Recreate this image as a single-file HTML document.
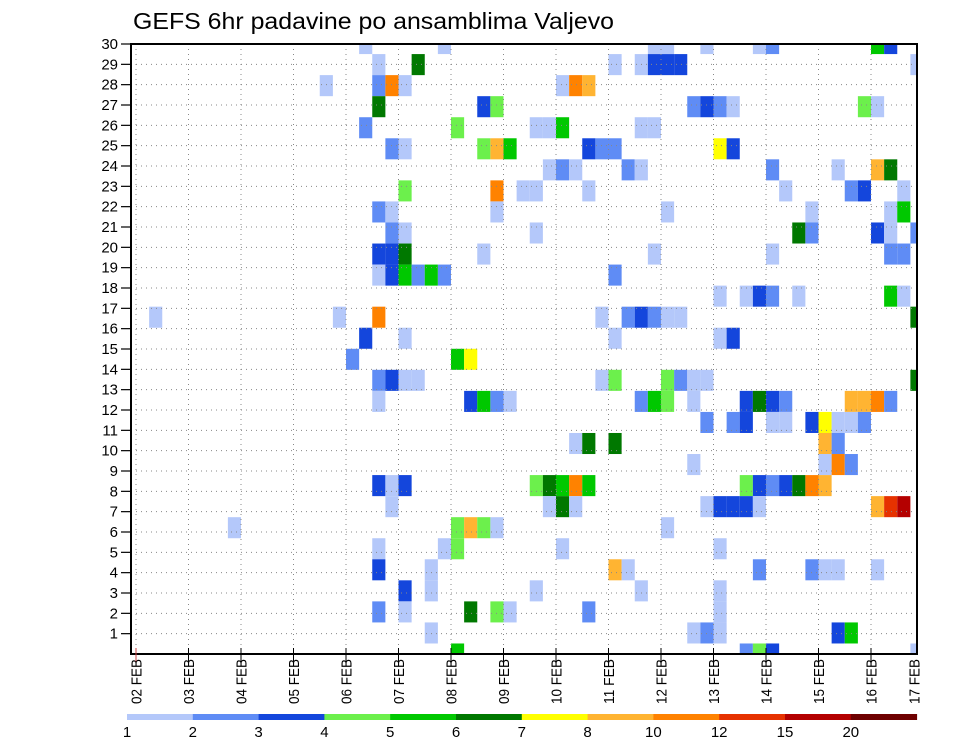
<!DOCTYPE html>
<html><head><meta charset="utf-8">
<style>
html,body{margin:0;padding:0;background:#fff;}
svg{display:block;font-family:"Liberation Sans",sans-serif;}
</style></head>
<body>
<svg id="chart" width="960" height="742" viewBox="0 0 960 742" xmlns="http://www.w3.org/2000/svg">
<text x="133" y="29" font-size="23" textLength="481" lengthAdjust="spacingAndGlyphs" fill="#000">GEFS 6hr padavine po ansamblima Valjevo</text>
<g id="cells" clip-path="url(#plotclip)"></g>
<g id="grid"></g>
<g id="axes"></g>
<g id="cbar"></g>
<defs><clipPath id="plotclip"><rect x="131" y="44" width="786" height="610"/></clipPath></defs>
</svg>
<script>
// ---- data ----
const dayLabels = ["02 FEB","03 FEB","04 FEB","05 FEB","06 FEB","07 FEB","08 FEB","09 FEB","10 FEB","11 FEB","12 FEB","13 FEB","14 FEB","15 FEB","16 FEB","17 FEB"];
const yTickLabels = [1,2,3,4,5,6,7,8,9,10,11,12,13,14,15,16,17,18,19,20,21,22,23,24,25,26,27,28,29,30];
const levels = [1,2,3,4,5,6,7,8,10,12,15,20];
const levelColors = ["#b4c8fa","#5f8cf5","#1446dc","#6cf04c","#00c800","#007800","#ffff00","#ffb432","#ff8200","#e63200","#b40000","#6e0000"];
// member rows (cell index), 6-hour step index, precipitation value
const cellMember = [
29,29,29,29,29,29,29,29,29,
28,28,28,28,28,28,28,28,
27,27,27,27,27,27,27,
26,26,26,26,26,26,26,26,26,
25,25,25,25,25,25,25,
24,24,24,24,24,24,24,24,24,24,
23,23,23,23,23,23,23,23,23,
22,22,22,22,22,22,22,22,22,
21,21,21,21,21,21,21,
20,20,20,20,20,20,20,20,
19,19,19,19,19,19,19,19,
18,18,18,18,18,18,18,
17,17,17,17,17,17,17,
16,16,16,16,16,16,16,16,16,16,
15,15,15,15,15,
14,14,14,
13,13,13,13,13,13,13,13,13,13,13,
12,12,12,12,12,12,12,12,12,12,12,12,12,12,12,12,12,
11,11,11,11,11,11,11,11,11,11,
10,10,10,10,10,
9,9,9,9,
8,8,8,8,8,8,8,8,8,8,8,8,8,8,8,
7,7,7,7,7,7,7,7,7,7,7,7,
6,6,6,6,6,6,
5,5,5,5,5,
4,4,4,4,4,4,4,4,4,
3,3,3,3,3,
2,2,2,2,2,2,2,
1,1,1,1,1,1,
0,0,0,0,0];
const cellStep = [
17,23,39,40,43,47,48,56,57,
18,21,36,38,39,40,41,59,
14,18,19,20,32,33,34,
18,26,27,42,43,44,45,55,56,
17,24,30,31,32,38,39,
19,20,26,27,28,34,35,36,44,45,
31,32,33,37,38,48,53,56,57,
20,27,29,30,34,49,54,55,58,
18,19,27,40,51,57,58,
19,20,30,50,51,56,57,59,
18,19,20,26,39,48,57,58,
18,19,20,21,22,23,36,
44,46,47,48,50,57,58,
1,15,18,35,37,38,39,40,41,59,
17,20,36,44,45,
16,24,25,
18,19,20,21,35,36,40,41,42,43,59,
18,25,26,27,28,38,39,40,42,46,47,48,49,54,55,56,57,
43,45,46,48,49,51,52,53,54,55,
33,34,36,52,53,
42,52,53,54,
18,19,20,30,31,32,33,34,46,47,48,49,50,51,52,
19,31,32,33,43,44,45,46,47,56,57,58,
7,24,25,26,27,40,
18,23,24,32,44,
18,22,36,37,47,51,52,53,56,
20,22,30,38,44,
18,20,25,27,28,34,44,
22,42,43,44,53,54,
24,46,47,48,59];
const cellValue = [
1.5,1.5,1.5,1.5,1.5,1.5,2.5,5.5,3.5,
1.5,6.5,1.5,1.5,3.5,3.5,3.5,1.5,
1.5,2.5,11,1.5,1.5,11,9,
6.5,3.5,4.5,2.5,3.5,2.5,1.5,4.5,1.5,
2.5,4.5,1.5,1.5,5.5,1.5,1.5,
2.5,1.5,4.5,9,5.5,3.5,2.5,2.5,7.5,3.5,
1.5,2.5,1.5,2.5,1.5,2.5,1.5,9,6.5,
4.5,11,1.5,1.5,1.5,1.5,2.5,3.5,1.5,
2.5,1.5,1.5,1.5,1.5,1.5,5.5,
2.5,1.5,1.5,6.5,2.5,3.5,1.5,2.5,
3.5,3.5,6.5,1.5,1.5,1.5,2.5,2.5,
1.5,3.5,5.5,2.5,5.5,2.5,2.5,
1.5,1.5,3.5,2.5,1.5,5.5,1.5,
1.5,1.5,11,1.5,2.5,3.5,2.5,1.5,1.5,6.5,
3.5,1.5,1.5,1.5,3.5,
2.5,5.5,7.5,
2.5,3.5,1.5,1.5,1.5,4.5,4.5,2.5,1.5,1.5,6.5,
1.5,3.5,5.5,2.5,1.5,2.5,5.5,4.5,1.5,3.5,6.5,3.5,2.5,9,9,11,2.5,
2.5,2.5,3.5,1.5,1.5,3.5,7.5,1.5,1.5,2.5,
1.5,6.5,6.5,9,2.5,
1.5,1.5,11,2.5,
3.5,1.5,3.5,4.5,6.5,5.5,11,5.5,4.5,3.5,2.5,3.5,6.5,11,9,
1.5,1.5,6.5,1.5,1.5,3.5,3.5,3.5,1.5,9,13.5,17,
1.5,4.5,9,4.5,1.5,1.5,
1.5,1.5,4.5,1.5,1.5,
3.5,1.5,9,1.5,2.5,2.5,1.5,1.5,1.5,
3.5,1.5,1.5,1.5,1.5,
2.5,1.5,6.5,4.5,1.5,2.5,1.5,
1.5,1.5,2.5,1.5,3.5,5.5,
5.5,2.5,4.5,3.5,1.5];

// ---- geometry ----
const NS="http://www.w3.org/2000/svg";
const X0=136, DAYW=52.5, STEPW=DAYW/4, LEFT=131, RIGHT=917, TOP=44, BOTTOM=654;
const ROWH=(BOTTOM-TOP)/30, CELLH=21.05;
function xStep(k){return X0+k*STEPW;}
function yCell(j){return BOTTOM-CELLH*j;}
function yTick(v){return BOTTOM-ROWH*v;}
function colorFor(v){let c=null;for(let i=0;i<levels.length;i++){if(v>=levels[i])c=levelColors[i];}return c;}
function mk(tag,attrs,parent){const e=document.createElementNS(NS,tag);for(const a in attrs)e.setAttribute(a,attrs[a]);parent.appendChild(e);return e;}

const gCells=document.getElementById('cells');
for(let i=0;i<cellValue.length;i++){
  const c=colorFor(cellValue[i]); if(!c) continue;
  const r=mk('rect',{x:xStep(cellStep[i]).toFixed(2),y:(yCell(cellMember[i])-CELLH/2).toFixed(2),width:STEPW.toFixed(2),height:CELLH.toFixed(2),fill:c},gCells);
  
  
}

const gGrid=document.getElementById('grid');
for(let v=1;v<=29;v++){
  const l=mk('line',{x1:LEFT,x2:RIGHT,y1:yTick(v),y2:yTick(v),stroke:"#888","stroke-width":1,"stroke-dasharray":"1,4"},gGrid);
  
  
}
for(let d=0;d<15;d++){
  const x=X0+d*DAYW;
  const l=mk('line',{x1:x,x2:x,y1:TOP,y2:BOTTOM,stroke:"#888","stroke-width":1,"stroke-dasharray":"1,4"},gGrid);
  
  
}

const gAx=document.getElementById('axes');
const frame=mk('rect',{x:LEFT,y:TOP,width:RIGHT-LEFT,height:BOTTOM-TOP,fill:"none",stroke:"#000","stroke-width":2},gAx);


for(let i=0;i<yTickLabels.length;i++){
  const y=yTick(yTickLabels[i]);
  const t=mk('line',{x1:121,x2:LEFT,y1:y,y2:y,stroke:"#000","stroke-width":1.2},gAx);
  
  
  const tx=mk('text',{x:118,y:y+5,"font-size":15,"text-anchor":"end",fill:"#000"},gAx);
  tx.textContent=yTickLabels[i];
  
  
}
for(let d=0;d<dayLabels.length;d++){
  const x=d<15?X0+d*DAYW:RIGHT-3;
  if(d<15){
    const t=mk('line',{x1:x,x2:x,y1:BOTTOM-6,y2:BOTTOM+8,stroke:d===0?"#c44":"#000","stroke-width":1},gAx);
    
    
  }
  const tx=mk('text',{x:0,y:0,"font-size":15,transform:`translate(${x+5.5},704) rotate(-90)`,textLength:45,lengthAdjust:"spacingAndGlyphs",fill:"#000"},gAx);
  tx.textContent=dayLabels[d];
  
  
}

const gCb=document.getElementById('cbar');
const CB0=127, CBW=65.8;
for(let i=0;i<levels.length;i++){
  const r=mk('rect',{x:CB0+i*CBW,y:714,width:CBW+0.5,height:6,fill:levelColors[i]},gCb);
  
  
  const t=mk('text',{x:CB0+i*CBW,y:737,"font-size":15,"text-anchor":"middle",fill:"#000"},gCb);
  t.textContent=levels[i];
  
  
}
</script>
</body></html>
